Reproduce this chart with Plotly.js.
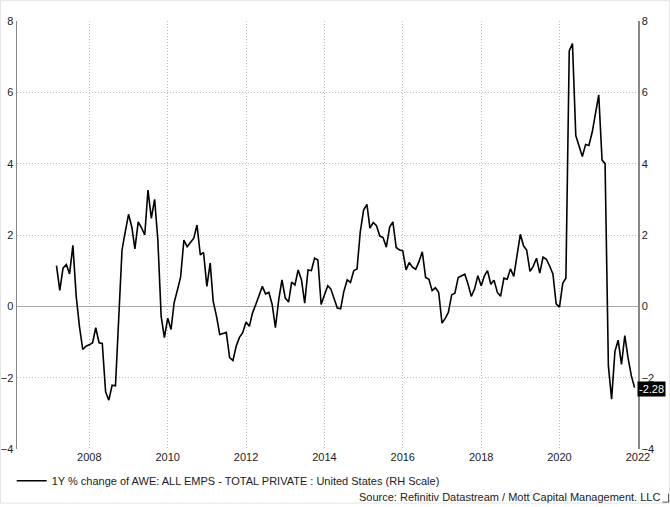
<!DOCTYPE html>
<html>
<head>
<meta charset="utf-8">
<script src="https://cdn.plot.ly/plotly-3.0.1.min.js"></script>
<style>
html,body{margin:0;padding:0;background:#fff;}
#chart{width:670px;height:507px;}
</style>
</head>
<body>
<div id="chart"></div>
<script>
// Monthly 1Y % change, first observation March 2007
const startYear = 2007;
const startMonth = 3;
const v2007 = [1.14, 0.45, 1.07, 1.17, 0.91, 1.71, 0.28, -0.56, -1.21, -1.12];
const v2008 = [-1.08, -1.02, -0.60, -1.02, -1.04, -2.40, -2.63, -2.21, -2.23, -0.25, 1.58, 2.09];
const v2009 = [2.58, 2.21, 1.61, 2.37, 2.21, 2.00, 3.26, 2.47, 3.00, 1.86, -0.28, -0.88];
const v2010 = [-0.33, -0.65, 0.09, 0.45, 0.82, 1.86, 1.67, 1.79, 1.91, 2.28, 1.44, 1.51];
const v2011 = [0.56, 1.21, 0.14, -0.28, -0.79, -0.76, -0.73, -1.44, -1.52, -1.12, -0.87, -0.74];
const v2012 = [-0.44, -0.56, -0.19, 0.05, 0.30, 0.56, 0.35, 0.39, 0.05, -0.60, 0.19, 0.74];
const v2013 = [0.23, 0.12, 0.68, 0.60, 1.02, 0.74, 0.09, 1.02, 1.00, 1.35, 1.30, 0.05];
const v2014 = [0.32, 0.58, 0.49, 0.19, -0.05, -0.07, 0.42, 0.74, 0.67, 1.00, 1.05, 2.09];
const v2015 = [2.70, 2.86, 2.19, 2.35, 2.26, 1.97, 1.93, 1.66, 2.22, 2.37, 1.65, 1.58];
const v2016 = [1.56, 1.02, 1.23, 1.10, 1.04, 1.26, 1.53, 0.81, 0.76, 0.44, 0.52, 0.39];
const v2017 = [-0.47, -0.33, -0.17, 0.32, 0.37, 0.81, 0.86, 0.90, 0.62, 0.28, 0.49, 0.86];
const v2018 = [0.58, 0.86, 1.00, 0.62, 0.73, 0.39, 0.28, 0.79, 0.76, 1.05, 0.84, 1.40];
const v2019 = [2.02, 1.69, 1.58, 0.98, 1.12, 1.35, 0.93, 1.38, 1.32, 1.13, 0.91, 0.07];
const v2020 = [-0.02, 0.65, 0.79, 7.16, 7.37, 4.79, 4.51, 4.20, 4.54, 4.51, 4.88, 5.40];
const v2021 = [5.93, 4.10, 4.00, -1.67, -2.60, -1.26, -0.95, -1.63, -0.82, -1.44, -1.95, -2.28];

const seriesName = "1Y % change of AWE: ALL EMPS - TOTAL PRIVATE : United States (RH Scale)";
const sourceText = "Source: Refinitiv Datastream / Mott Capital Management. LLC";
const yTicks = [-4, -2, 0, 2, 4, 6, 8];

const values = [].concat(v2007, v2008, v2009, v2010, v2011, v2012, v2013, v2014,
  v2015, v2016, v2017, v2018, v2019, v2020, v2021);
const dates = values.map((v, i) => {
  const m = startMonth - 1 + i;
  const y = startYear + Math.floor(m / 12);
  const mm = (m % 12) + 1;
  return y + "-" + String(mm).padStart(2, "0") + "-01";
});
const lastVal = values[values.length - 1];

const FONT = "Liberation Sans, Arial, sans-serif";
const W = 670, H = 507;
const M = {l: 17, r: 32, t: 21, b: 55};
const pw = W - M.l - M.r, ph = H - M.t - M.b;
const px = x => (x - M.l) / pw;
const py = y => (H - M.b - y) / ph;

const traces = [
  {x: dates, y: values, type: "scatter", mode: "lines", name: seriesName,
   line: {color: "#000", width: 1.6}, yaxis: "y", hoverinfo: "skip"},
  {x: dates, y: values, type: "scatter", mode: "lines", showlegend: false,
   line: {color: "rgba(0,0,0,0)", width: 0}, yaxis: "y2", hoverinfo: "skip"}
];

const GRID = "#bdbdbd";
const GRIDDASH = "1px,2px";
const axisFont = {family: FONT, size: 11, color: "#222"};
const layout = {
  width: W, height: H,
  margin: M,
  paper_bgcolor: "#fff", plot_bgcolor: "#fff",
  font: {family: FONT, size: 11, color: "#222"},
  showlegend: true,
  legend: {orientation: "h", x: px(11.7), xanchor: "left", y: py(484), yanchor: "middle",
    font: {family: FONT, size: 11, color: "#222"}, bgcolor: "rgba(0,0,0,0)"},
  xaxis: {type: "date", range: ["2006-02-26", "2022-01-02"],
    tick0: "2008-01-01", dtick: "M24", tickformat: "%Y",
    showgrid: true, gridcolor: GRID, griddash: GRIDDASH, gridwidth: 1,
    zeroline: false, showline: false, ticks: "", tickfont: axisFont, fixedrange: true},
  yaxis: {range: [-4, 8], tickvals: yTicks, side: "right",
    showgrid: true, gridcolor: GRID, griddash: GRIDDASH, gridwidth: 1,
    zeroline: true, zerolinecolor: "#a8a8a8", zerolinewidth: 1,
    showline: true, linecolor: "#888", linewidth: 1.5, ticks: "", tickfont: axisFont, fixedrange: true},
  yaxis2: {range: [-4, 8], tickvals: yTicks, side: "left", overlaying: "y",
    showgrid: false, zeroline: false, showline: true, linecolor: "#888", linewidth: 1.5,
    ticks: "", tickfont: axisFont, fixedrange: true},
  annotations: [
    {x: 1, xref: "paper", xanchor: "left", y: lastVal, yref: "y", yanchor: "middle",
     text: lastVal.toFixed(2), showarrow: false, bgcolor: "#000",
     font: {family: FONT, size: 11, color: "#fff"}, borderpad: 1, xshift: -1, yshift: -1},
    {x: px(662), xref: "paper", xanchor: "right", y: py(500.5), yref: "paper", yanchor: "middle",
     text: sourceText, showarrow: false, font: {family: FONT, size: 11, color: "#222"}}
  ],
  shapes: [
    {type: "rect", xref: "paper", yref: "paper", x0: px(0.5), x1: px(669.5), y0: py(0.5), y1: py(506.5),
     line: {color: "#e4e4e4", width: 1}, layer: "below"},
    {type: "path", xref: "paper", yref: "paper",
     path: "M" + px(662.5) + "," + py(505.5) + " L" + px(668.5) + "," + py(505.5) + " L" + px(668.5) + "," + py(497),
     line: {color: "#555", width: 1}}
  ]
};

Plotly.newPlot("chart", traces, layout, {staticPlot: true, displayModeBar: false});
</script>
</body>
</html>
